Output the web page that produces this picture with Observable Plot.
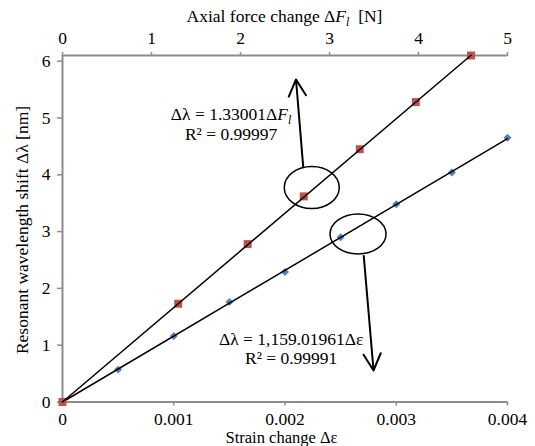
<!DOCTYPE html>
<html><head><meta charset="utf-8">
<script src="https://cdn.jsdelivr.net/npm/d3@7"></script>
<script src="https://cdn.jsdelivr.net/npm/@observablehq/plot@0.6"></script>
<style>
html,body{margin:0;padding:0;background:#fff;}
#wrap{position:relative;width:535px;height:446px;overflow:hidden;}
#wrap svg{position:absolute;left:0;top:0;}
</style></head><body><div id="wrap"></div>
<script>
// ---- data ----
const strain      = [0, 0.0005, 0.001, 0.0015, 0.002, 0.0025, 0.003, 0.0035, 0.004];
const shiftStrain = [0, 0.57, 1.16, 1.76, 2.29, 2.90, 3.48, 4.04, 4.65];
const force       = [0, 1.30, 2.08, 2.71, 3.34, 3.97, 4.59];
const shiftForce  = [0, 1.73, 2.78, 3.62, 4.45, 5.28, 6.10];
const strainTicks = [0, 0.001, 0.002, 0.003, 0.004];
const forceTicks  = [0, 1, 2, 3, 4, 5];
const shiftTicks  = [0, 1, 2, 3, 4, 5, 6];
const slopeStrain = 1159.01961, r2Strain = "0.99991";
const slopeForce  = 1.33001,    r2Force  = "0.99997";
const strainDomain = [0, 0.004], forceDomain = [0, 5], shiftDomain = [0, 6.1];

// annotations (data units of strain / shift)
const ellipses = [{s: 0.002245, l: 3.768}, {s: 0.002661, l: 2.949}];
const arrows = [
  {s1: 0.002164, l1: 4.134, s2: 0.002099, l2: 5.678},
  {s1: 0.002708, l1: 2.570, s2: 0.002796, l2: 0.555}
];
const eqForcePos  = {s: 0.00152, l: 4.955};
const eqStrainPos = {s: 0.00206, l: 0.995};

// ---- derived tables ----
const blue = strain.map((s, i) => ({x: s, y: shiftStrain[i]}));
const red  = force.map((f, i) => ({x: f, y: shiftForce[i]}));
const sMax = d3.max(strain), fMax = d3.max(force);
const blueTrend = [{x: 0, y: 0}, {x: sMax, y: slopeStrain * sMax}];
const redTrend  = [{x: 0, y: 0}, {x: fMax, y: slopeForce * fMax}];

const W = 535, H = 446, mL = 62, mR = 28, mT = 55, mB = 44.5;
const font = "'Liberation Serif', 'Times New Roman', serif";
const gray = "#8c8c8c";
const common = {
  width: W, height: H, marginLeft: mL, marginRight: mR, marginTop: mT, marginBottom: mB,
  style: {fontFamily: font, fontSize: "17.5px", background: "transparent", color: "black", overflow: "visible"}
};

const base = Plot.plot({
  ...common,
  x: {domain: strainDomain, label: null},
  y: {domain: shiftDomain, label: null},
  marks: [
    Plot.ruleX([0], {stroke: gray, strokeWidth: 2}),
    Plot.ruleY([0], {stroke: gray, strokeWidth: 2}),
    Plot.axisX({anchor: "bottom", ticks: strainTicks, tickFormat: d => d === 0 ? "0" : d.toFixed(3),
      tickSize: 4, tickPadding: 6.5, stroke: gray, strokeWidth: 1.5, fill: "black", label: null}),
    Plot.axisY({anchor: "left", ticks: shiftTicks, tickFormat: d => String(d),
      tickSize: 5, tickPadding: 7, stroke: gray, strokeWidth: 1.5, fill: "black", label: null}),
    Plot.dot(blue, {x: "x", y: "y", symbol: "diamond2", r: 3.6, fill: "#4F81BD"}),
    Plot.line(blueTrend, {x: "x", y: "y", stroke: "black", strokeWidth: 1.5}),
    Plot.arrow(arrows, {x1: "s1", y1: "l1", x2: "s2", y2: "l2", stroke: "black", strokeWidth: 2,
      headLength: 14, headAngle: 55})
  ]
});

const over = Plot.plot({
  ...common,
  x: {domain: forceDomain, label: null},
  y: {domain: shiftDomain, label: null, axis: null},
  marks: [
    Plot.ruleY([shiftDomain[1]], {stroke: gray, strokeWidth: 2}),
    Plot.axisX({anchor: "top", ticks: forceTicks, tickFormat: d => String(d),
      tickSize: 4, tickPadding: 7.5, stroke: gray, strokeWidth: 1.5, fill: "black", label: null}),
    Plot.dot(red, {x: "x", y: "y", symbol: "square", r: 4.5, fill: "#C0504D"}),
    Plot.line(redTrend, {x: "x", y: "y", stroke: "black", strokeWidth: 1.5})
  ]
});

const wrap = document.getElementById("wrap");
wrap.appendChild(base);
wrap.appendChild(over);

const xs = base.scale("x"), ys = base.scale("y");
const g = d3.select(over).append("g").attr("font-family", font).attr("font-size", 17.5).attr("fill", "black");

// ellipses
const radii = [[27.5, 21], [28, 20]];
ellipses.forEach((e, i) => {
  g.append("ellipse").attr("cx", xs.apply(e.s)).attr("cy", ys.apply(e.l))
    .attr("rx", radii[i][0]).attr("ry", radii[i][1])
    .attr("fill", "none").attr("stroke", "black").attr("stroke-width", 1.5);
});

// equation labels
function eq(pos, build, r2, gap) {
  const x = xs.apply(pos.s), y = ys.apply(pos.l);
  const t = g.append("text").attr("x", x).attr("y", y).attr("text-anchor", "middle");
  build(t);
  g.append("text").attr("x", x).attr("y", y + gap).attr("text-anchor", "middle").text("R² = " + r2);
}
eq(eqForcePos, t => {
  t.append("tspan").text("Δλ = " + slopeForce.toFixed(5) + "Δ");
  t.append("tspan").attr("font-style", "italic").text("F");
  t.append("tspan").attr("font-style", "italic").attr("font-size", 12).attr("dy", 4).text("l");
}, r2Force, 20);
eq(eqStrainPos, t => {
  t.append("tspan").text("Δλ = " + d3.format(",.5f")(slopeStrain) + "Δε");
}, r2Strain, 19);

// axis titles
const cx = (mL + (W - mR)) / 2;
const tt = g.append("text").attr("x", cx).attr("y", 22).attr("text-anchor", "middle");
tt.append("tspan").text("Axial force change Δ");
tt.append("tspan").attr("font-style", "italic").text("F");
tt.append("tspan").attr("font-style", "italic").attr("font-size", 12).attr("dy", 4).text("l");
tt.append("tspan").attr("dy", -4).text("\u00a0\u00a0[N]");

g.append("text").attr("x", cx - 3).attr("y", 443).attr("font-size", 16.5).attr("text-anchor", "middle").text("Strain change Δε");
g.append("text").attr("transform", "translate(28,230) rotate(-90)").attr("text-anchor", "middle")
  .text("Resonant wavelength shift Δλ [nm]");
</script></body></html>
